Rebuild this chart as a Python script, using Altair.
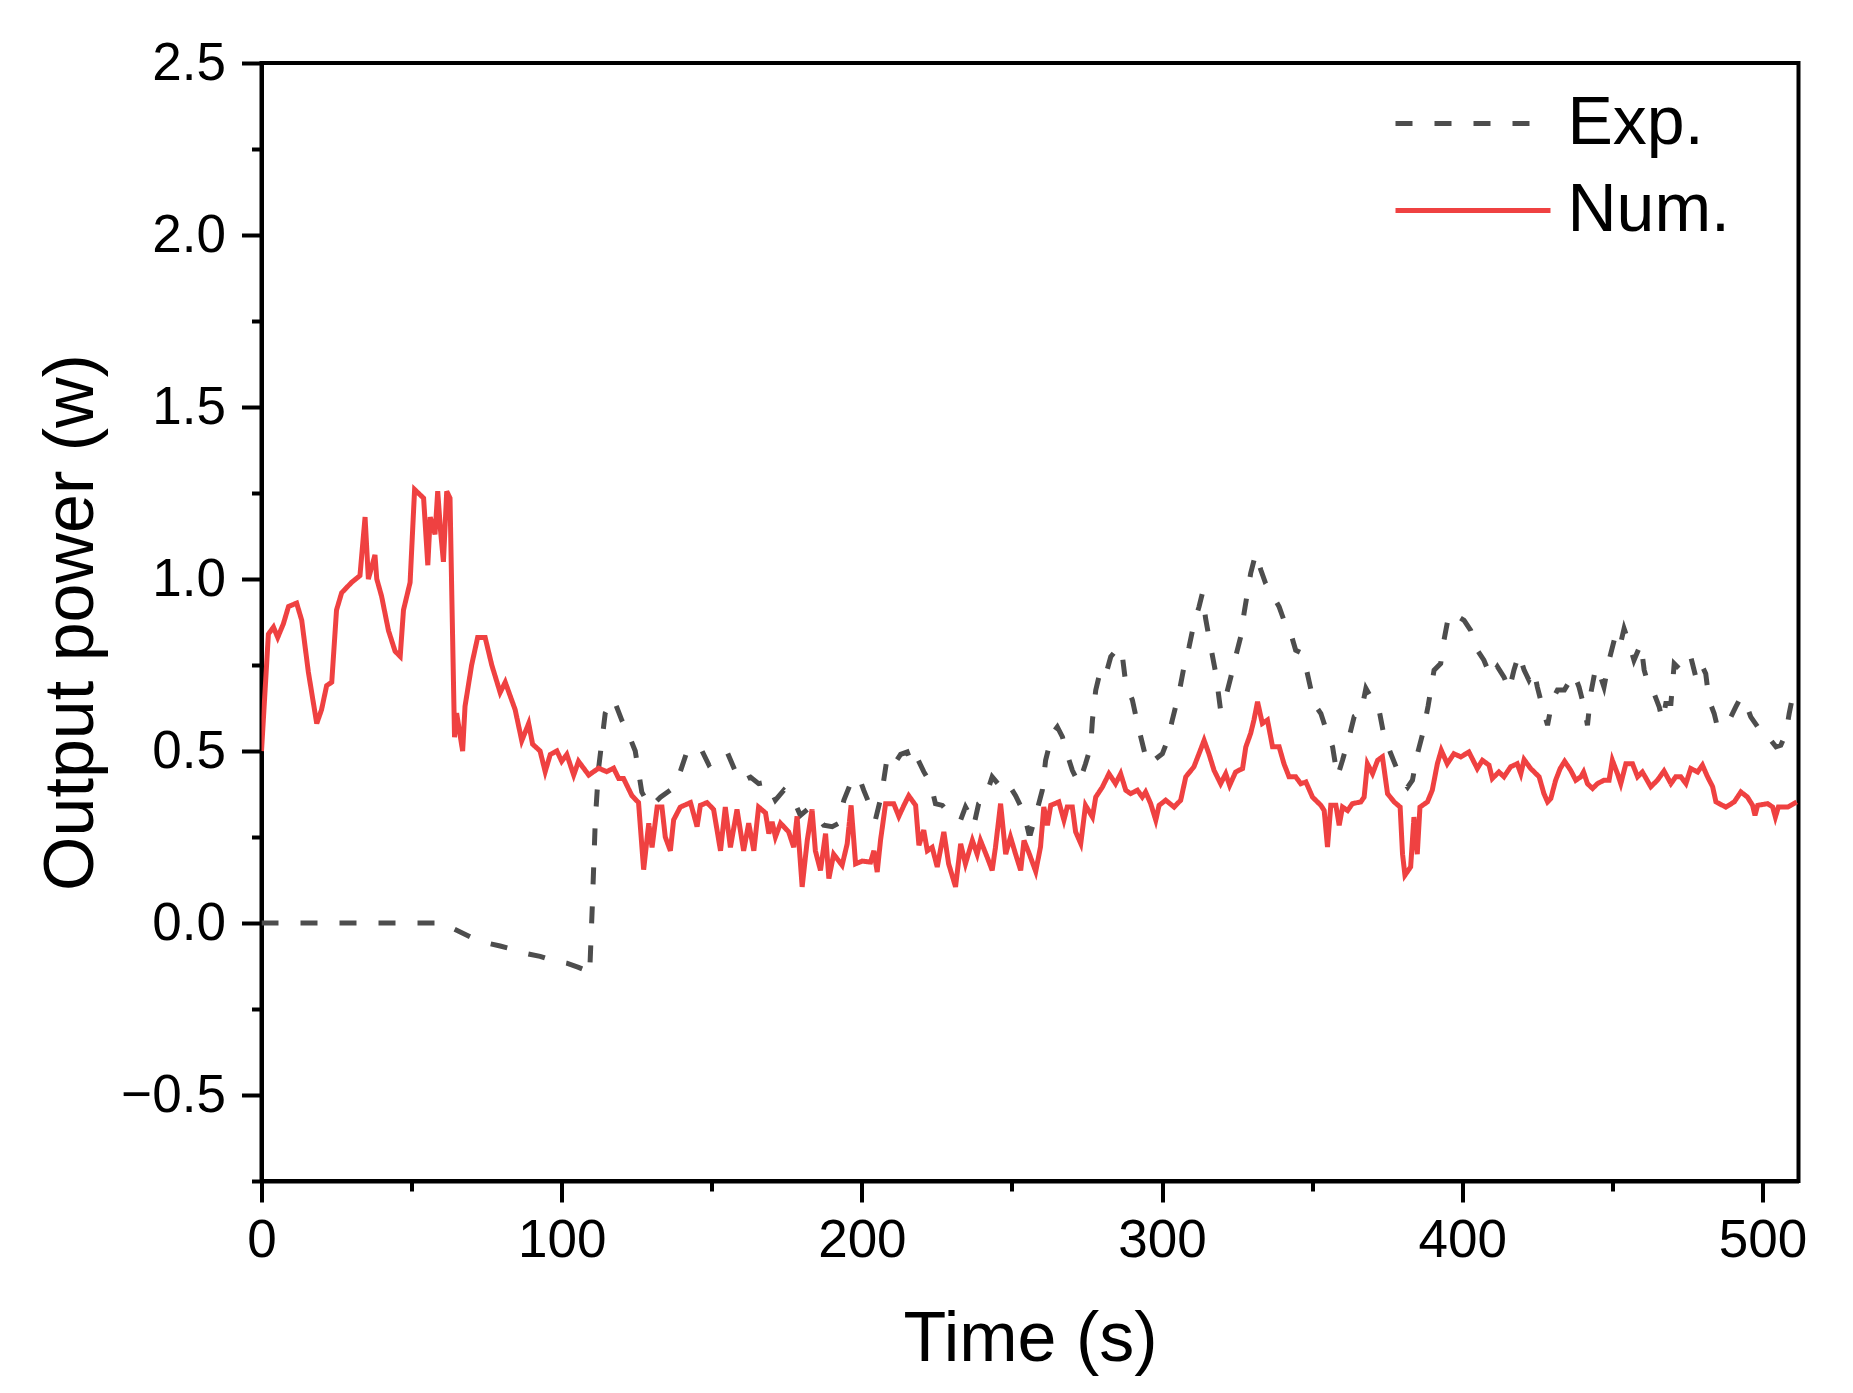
import altair as alt
import pandas as pd

# ---------------- data ----------------
t_exp = [0, 61, 62, 64, 69.5, 74.5, 79.5, 84, 88.4, 92.8, 97.3, 101.7, 105.6, 108.4, 109.3,
         110.2, 111.2, 112.3, 113.4, 114.5, 116.7, 117.8, 120, 122.2, 124.5, 125.6, 126.7,
         129.5, 132.9, 136.8, 139.5, 141.8, 146.2, 149, 151.8, 155.1, 157.9, 159.5, 162.9,
         165.6, 168.4, 171.2, 174, 177.3, 179.5, 181.8, 184.5, 187.3, 190.1, 192.3, 192.9,
         194, 196.2, 199, 200.6, 202.9, 204.5, 206.2, 207.1, 208.4, 210.6, 212.9, 215.1,
         216.8, 218.4, 220.6, 222.9, 224.5, 226.8, 229.5, 232.9, 234.5, 236.2, 237.3, 238.9,
         241.2, 243.4, 246.2, 248.4, 251.2, 254, 255.6, 256.2, 258.4, 260.1, 261.2, 263.4,
         265.1, 266.8, 268.4, 270.1, 272.3, 274.5, 276.2, 276.8, 277.9, 279.5, 281.2, 282.9,
         285.6, 286.8, 287.9, 290.1, 291.8, 294, 295.1, 297.3, 300.1, 301.8, 303.4, 305.6,
         307.3, 309, 310.6, 312.3, 313.4, 314.5, 316.2, 317.9, 319.5, 321.2, 322.9, 324.5,
         326.2, 327.3, 328.4, 329.5, 331.2, 332.9, 334.5, 336.8, 339, 340.6, 342.9, 344.5,
         346.8, 348.4, 350.6, 352.9, 355.1, 356.8, 358.4, 360.1, 362.3, 364, 366.2, 367.9,
         370.1, 372.3, 374, 376.2, 378.4, 380.1, 381.8, 383.4, 385, 386.8, 388.6, 390.6,
         392.8, 393.9, 395.6, 397.8, 400.6, 402.8, 405, 407.2, 409.5, 411.7, 413.9, 415.6,
         417.2, 418.9, 420.6, 422.2, 423.9, 425, 426.7, 428.4, 430, 431.7, 434, 435.6,
         437.2, 438.9, 440.6, 441.7, 442.8, 444.5, 446.1, 447.2, 448.9, 450.6, 452.2, 453.9,
         455.6, 457.2, 459.5, 460.6, 462.2, 463.9, 465.6, 466.7, 467.8, 469.5, 470.6, 472.8,
         474.5, 476.1, 477.8, 479.5, 481.1, 482.2, 483.9, 485, 486.7, 488.9, 491.1, 492.8,
         494.5, 496.1, 498.4, 500.6, 502.8, 504.5, 506.1, 507.8, 508.9, 510, 511.4]
p_exp = [0, 0, -0.005, -0.017, -0.04, -0.057, -0.067, -0.077, -0.089, -0.097, -0.11, -0.117, -0.129, -0.139, -0.15,
         0.05, 0.3, 0.45, 0.53, 0.61, 0.65, 0.64, 0.59, 0.55, 0.50, 0.44, 0.38,
         0.337, 0.366, 0.39, 0.44, 0.50, 0.51, 0.46, 0.478, 0.497, 0.44, 0.41, 0.424,
         0.405, 0.41, 0.357, 0.386, 0.357, 0.313, 0.33, 0.32, 0.284, 0.28, 0.29, 0.318,
         0.357, 0.405, 0.425, 0.386, 0.337, 0.30, 0.36, 0.405, 0.48, 0.46, 0.49, 0.497,
         0.459, 0.48, 0.44, 0.405, 0.347, 0.342, 0.313, 0.30, 0.337, 0.31, 0.284, 0.347,
         0.366, 0.425, 0.396, 0.41, 0.37, 0.32, 0.26, 0.26, 0.33, 0.386, 0.473, 0.55,
         0.57, 0.541, 0.49, 0.444, 0.405, 0.463, 0.512, 0.59, 0.677, 0.735, 0.72, 0.774,
         0.803, 0.774, 0.696, 0.648, 0.58, 0.502, 0.463, 0.473, 0.492, 0.531, 0.59, 0.667,
         0.745, 0.803, 0.87, 0.919, 0.958, 0.885, 0.803, 0.725, 0.618, 0.657, 0.715, 0.774,
         0.832, 0.9, 0.958, 1.016, 1.074, 1.026, 0.987, 0.953, 0.919, 0.88, 0.841, 0.793,
         0.783, 0.725, 0.638, 0.609, 0.55, 0.512, 0.425, 0.473, 0.541, 0.6, 0.609, 0.682,
         0.648, 0.618, 0.541, 0.492, 0.444, 0.415, 0.395, 0.415, 0.49, 0.55, 0.63, 0.735,
         0.754, 0.822, 0.9, 0.895, 0.88, 0.851, 0.793, 0.764, 0.715, 0.745, 0.715, 0.677,
         0.735, 0.783, 0.735, 0.706, 0.735, 0.686, 0.628, 0.575, 0.648, 0.677, 0.677, 0.701,
         0.725, 0.686, 0.628, 0.575, 0.667, 0.745, 0.715, 0.686, 0.764, 0.822, 0.793, 0.856,
         0.812, 0.764, 0.812, 0.735, 0.686, 0.667, 0.628, 0.589, 0.638, 0.638, 0.754, 0.735,
         0.745, 0.774, 0.715, 0.754, 0.725, 0.648, 0.609, 0.57, 0.58, 0.589, 0.628, 0.657,
         0.638, 0.599, 0.57, 0.565, 0.531, 0.512, 0.517, 0.55, 0.609, 0.657, 0.677]

t_num = [0, 2.3, 4, 5.4, 7.3, 9, 11.7, 13.4, 15.6, 18.4, 20, 21.7, 23.4, 25, 26.7, 30, 32.8,
         34.5, 35.6, 37.8, 38.4, 40, 42.3, 44.5, 46.2, 47.3, 49.5, 51, 54, 55.4, 56.2, 57.8,
         58.7, 59.6, 60.6, 61.7, 62.8, 63.4, 64.3, 65, 67, 67.8, 70, 72, 74.5, 76.7, 79.5,
         81.2, 84.5, 86.7, 89, 90.3, 92.8, 94.5, 96.2, 98.4, 100, 101.7, 104, 105.6, 109,
         112.3, 115, 117.3, 119, 120.6, 123.4, 125.6, 127.3, 129, 130.1, 131.8, 133.4, 134.5,
         136.2, 137.3, 139.5, 142.9, 145.1, 146.2, 148.4, 150.6, 152.9, 154.5, 156.2, 158.4,
         160.6, 162.3, 164, 165.6, 167.9, 169, 170.1, 171.2, 172.9, 175.6, 177.3, 178.4,
         180.1, 181.8, 183.4, 184.5, 186.2, 187.9, 189, 190.6, 193.4, 195.1, 196.4, 197.9,
         200.1, 202.9, 204, 205.1, 206.2, 207.9, 210.6, 212.3, 214, 215.6, 217.9, 219,
         220.6, 221.8, 223.4, 225.1, 227.3, 228.9, 231.2, 232.9, 234.5, 236.8, 238.4, 239.5,
         241.8, 243.4, 244.5, 246.2, 247.9, 249.5, 251.2, 252.9, 254, 255.6, 257.9, 259.5,
         260.6, 261.8, 262.9, 265.6, 267.3, 268.4, 270.1, 271.2, 272.9, 274.5, 276.8, 277.9,
         280.1, 282.3, 284.5, 286.2, 287.9, 289.5, 291.8, 293.4, 294.5, 296.2, 297.9, 299,
         301.2, 304, 306.2, 307.9, 310.6, 312.3, 314, 315.6, 317.3, 319.5, 321.2, 322.5,
         324.5, 326.8, 327.9, 329.5, 330.6, 331.8, 333.4, 335.1, 336.8, 339, 340.6, 342.3,
         344.5, 346.2, 347.9, 350.1, 352.9, 354, 355.1, 356.2, 357.9, 359, 360.1, 361.8,
         363.4, 366.2, 367.3, 368.4, 370.1, 371.8, 373.4, 375.1, 377.3, 379.3, 380.1, 380.9,
         382.8, 383.9, 385, 385.9, 388.4, 390, 391.7, 393, 395, 397.2, 399.5, 402.2, 405,
         406.7, 408.9, 410, 412.2, 413.9, 416.1, 418.3, 419.5, 420.6, 422.8, 425.6, 427.2,
         428.4, 429.5, 431.1, 432.6, 434.1, 436.1, 437.8, 439.5, 440.4, 441.7, 443.4, 445,
         447.2, 448.9, 450, 451.7, 452.8, 454.5, 456.7, 458.4, 460, 462.8, 465, 467.2, 469.5,
         471.1, 472.8, 474.5, 476.1, 478.4, 480, 481.7, 483.4, 484.5, 487.8, 490.6, 492.8,
         495, 496.7, 497.5, 498.4, 501.7, 503.4, 504.3, 505.3, 508.4, 511.4]
p_num = [0.50, 0.84, 0.86, 0.83, 0.87, 0.92, 0.93, 0.88, 0.73, 0.58, 0.62, 0.69, 0.70, 0.91, 0.96, 0.99, 1.01,
         1.18, 1.0, 1.07, 1.0, 0.95, 0.85, 0.79, 0.775, 0.91, 0.99, 1.26, 1.235, 1.04, 1.18, 1.13,
         1.255, 1.145, 1.05, 1.255, 1.235, 0.95, 0.54, 0.61, 0.50, 0.63, 0.75, 0.83, 0.83, 0.75, 0.67,
         0.70, 0.62, 0.53, 0.58, 0.52, 0.50, 0.44, 0.49, 0.50, 0.47, 0.49, 0.43, 0.47, 0.43,
         0.45, 0.44, 0.45, 0.42, 0.42, 0.37, 0.35, 0.155, 0.29, 0.22, 0.337, 0.337, 0.25,
         0.21, 0.30, 0.337, 0.35, 0.28, 0.342, 0.35, 0.33, 0.21, 0.337, 0.22, 0.33,
         0.21, 0.29, 0.21, 0.337, 0.32, 0.26, 0.294, 0.25, 0.29, 0.265, 0.22, 0.31,
         0.105, 0.24, 0.33, 0.21, 0.153, 0.26, 0.129, 0.20, 0.168, 0.23, 0.342, 0.172,
         0.18, 0.177, 0.21, 0.148, 0.24, 0.347, 0.347, 0.31, 0.342, 0.37, 0.342, 0.226,
         0.27, 0.21, 0.22, 0.163, 0.265, 0.172, 0.105, 0.23, 0.172, 0.24, 0.20, 0.24,
         0.19, 0.153, 0.22, 0.347, 0.20, 0.25, 0.20, 0.153, 0.24, 0.205, 0.15, 0.221,
         0.337, 0.284, 0.342, 0.352, 0.299, 0.337, 0.337, 0.265, 0.231, 0.342, 0.308, 0.366,
         0.395, 0.434, 0.405, 0.434, 0.386, 0.376, 0.386, 0.366, 0.381, 0.347, 0.299, 0.342,
         0.357, 0.337, 0.357, 0.425, 0.454, 0.492, 0.531, 0.492, 0.444, 0.405, 0.434, 0.40,
         0.439, 0.449, 0.512, 0.551, 0.59, 0.643, 0.58, 0.59, 0.512, 0.512, 0.463, 0.425,
         0.425, 0.405, 0.41, 0.366, 0.342, 0.327, 0.221, 0.342, 0.342, 0.284, 0.337, 0.327,
         0.347, 0.352, 0.366, 0.463, 0.434, 0.473, 0.483, 0.376, 0.352, 0.337, 0.2, 0.139,
         0.163, 0.308, 0.2, 0.337, 0.352, 0.386, 0.463, 0.502, 0.463, 0.492, 0.483, 0.497, 0.449,
         0.473, 0.459, 0.42, 0.439, 0.425, 0.454, 0.463, 0.434, 0.475, 0.449, 0.425, 0.376,
         0.352, 0.362, 0.415, 0.449, 0.47, 0.444, 0.415, 0.425, 0.439, 0.405, 0.391, 0.405,
         0.415, 0.415, 0.473, 0.434, 0.405, 0.463, 0.463, 0.425, 0.439, 0.396, 0.415, 0.442, 0.405,
         0.425, 0.425, 0.405, 0.449, 0.439, 0.459, 0.425, 0.396, 0.352, 0.337, 0.352, 0.381,
         0.366, 0.342, 0.313, 0.342, 0.347, 0.337, 0.308, 0.337, 0.337, 0.352]

series_names = ["Exp.", "Num."]
series_colors = ["#4d4d4d", "#ef4141"]
series_dashes = [[17, 22], [1, 0]]

x_major = [0, 100, 200, 300, 400, 500]
x_minor = [50, 150, 250, 350, 450]
y_major = [-0.5, 0.0, 0.5, 1.0, 1.5, 2.0, 2.5]
y_minor = [-0.75, -0.25, 0.25, 0.75, 1.25, 1.75, 2.25]
x_domain = [0, 512]
y_domain = [-0.75, 2.5]

# ---------------- build table ----------------
df = pd.concat([
    pd.DataFrame({"t": t_exp, "p": p_exp, "s": series_names[0], "o": range(len(t_exp))}),
    pd.DataFrame({"t": t_num, "p": p_num, "s": series_names[1], "o": range(len(t_num))}),
], ignore_index=True)

FONT = "Liberation Sans"

x_main = alt.X("t:Q", scale=alt.Scale(domain=x_domain, nice=False, zero=False),
               axis=alt.Axis(orient="bottom", values=x_major, format="d", title="Time (s)",
                             tickSize=21, labelPadding=12, titlePadding=38, grid=False,
                             labelFlush=False))
y_main = alt.Y("p:Q", scale=alt.Scale(domain=y_domain, nice=False, zero=False),
               axis=alt.Axis(orient="left", values=y_major, format=".1f", title="Output power (w)",
                             tickSize=20, labelPadding=16, titlePadding=13, grid=False,
                             labelFlush=False))

# legend symbol: a wide horizontal stroke (path spans 2*sqrt(size) in width)
lines = alt.Chart(df).mark_line(strokeWidth=5, clip=True).encode(
    x=x_main,
    y=y_main,
    color=alt.Color("s:N", scale=alt.Scale(domain=series_names, range=series_colors),
                    legend=alt.Legend(orient="none", legendX=1170, legendY=19, title=None,
                                      symbolType="M-2,0H2", symbolSize=6006, symbolStrokeWidth=5,
                                      symbolFillColor="transparent",
                                      labelFontSize=68, labelFont=FONT, labelOffset=53,
                                      labelLimit=500, rowPadding=11, labelColor="black")),
    strokeDash=alt.StrokeDash("s:N", scale=alt.Scale(domain=series_names, range=series_dashes),
                              legend=None),
    order="o:Q",
)

minor = alt.Chart(df).mark_line(opacity=0).encode(
    x=alt.X("t:Q", scale=alt.Scale(domain=x_domain, nice=False, zero=False),
            axis=alt.Axis(orient="bottom", values=x_minor, labels=False, title=None,
                          tickSize=10, grid=False, domain=False)),
    y=alt.Y("p:Q", scale=alt.Scale(domain=y_domain, nice=False, zero=False),
            axis=alt.Axis(orient="left", values=y_minor, labels=False, title=None,
                          tickSize=10, grid=False, domain=False)),
    detail="s:N",
)

chart = alt.layer(lines, minor).resolve_axis(x="independent", y="independent").properties(
    width=1537, height=1118,
    autosize=alt.AutoSizeParams(type="none"),
    padding={"left": 253.5, "top": 55, "right": 40, "bottom": 200},
).configure_view(
    stroke="black", strokeWidth=4
).configure_axis(
    domainColor="black", domainWidth=4, tickColor="black", tickWidth=4,
    labelFont=FONT, labelFontSize=53, labelColor="black",
    titleFont=FONT, titleFontSize=70, titleColor="black", titleFontWeight="normal",
).configure_legend(
    labelFont=FONT
)

chart.save("out.html", embed_options={"renderer": "svg", "actions": False})
